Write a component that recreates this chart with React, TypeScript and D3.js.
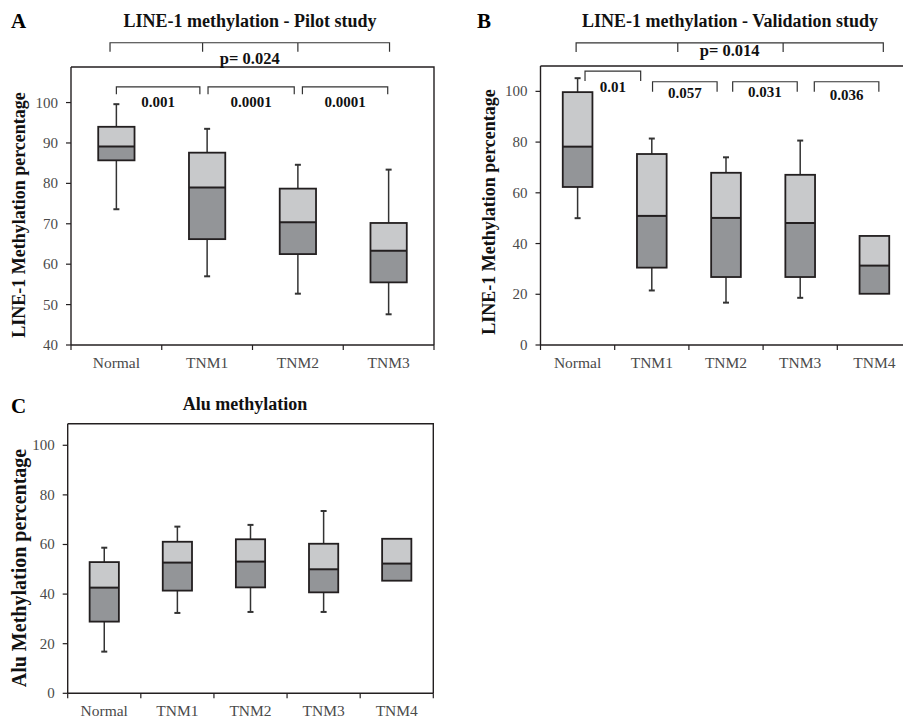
import React from 'react';
import * as d3 from 'd3';

// ---- Panel A: LINE-1 methylation, pilot study ----
const pilotCategories = ['Normal', 'TNM1', 'TNM2', 'TNM3'];
const pilotMin = [73.6, 57.0, 52.7, 47.6];
const pilotQ1 = [85.7, 66.2, 62.5, 55.5];
const pilotMedian = [89.1, 79.0, 70.4, 63.3];
const pilotQ3 = [94.0, 87.6, 78.7, 70.2];
const pilotMax = [99.6, 93.5, 84.6, 83.4];
const pilotTicks = [40, 50, 60, 70, 80, 90, 100];
// pairwise p-values (spans in category units, level in % units)
const pilotPairFrom = [0, 1.01, 2.05];
const pilotPairTo = [0.92, 1.96, 2.99];
const pilotPairLabels = ['0.001', '0.0001', '0.0001'];
const pilotPairLevel = [103.9, 103.9, 103.9];
const pilotAllSpan = [-0.07, 3.01];
const pilotAllTicks = [0.95, 2.0];
const pilotAllLevel = 114.8;
const pilotAllLabel = 'p= 0.024';

// ---- Panel B: LINE-1 methylation, validation study ----
const validCategories = ['Normal', 'TNM1', 'TNM2', 'TNM3', 'TNM4'];
const validMin = [50.0, 21.5, 16.7, 18.6, null];
const validQ1 = [62.3, 30.5, 26.8, 26.8, 20.2];
const validMedian = [78.2, 50.9, 50.1, 48.1, 31.3];
const validQ3 = [99.7, 75.3, 67.9, 67.1, 43.0];
const validMax = [105.2, 81.4, 74.0, 80.6, null];
const validTicks = [0, 20, 40, 60, 80, 100];
const validPairFrom = [0.1, 1.01, 2.09, 3.19];
const validPairTo = [0.85, 1.88, 2.96, 4.06];
const validPairLabels = ['0.01', '0.057', '0.031', '0.036'];
const validPairLevel = [108.0, 103.8, 103.8, 103.8];
const validAllSpan = [-0.02, 4.12];
const validAllTicks = [1.35, 2.77];
const validAllLevel = 119.1;
const validAllLabel = 'p= 0.014';

// ---- Panel C: Alu methylation ----
const aluCategories = ['Normal', 'TNM1', 'TNM2', 'TNM3', 'TNM4'];
const aluMin = [16.8, 32.4, 32.8, 32.8, null];
const aluQ1 = [28.9, 41.4, 42.7, 40.7, 45.4];
const aluMedian = [42.6, 52.7, 53.1, 50.0, 52.3];
const aluQ3 = [52.9, 61.1, 62.1, 60.3, 62.3];
const aluMax = [58.7, 67.2, 67.9, 73.5, null];
const aluTicks = [0, 20, 40, 60, 80, 100];

const LIGHT = '#c8c9cb';
const DARK = '#939598';
const INK = '#231f20';
const TICKTEXT = '#4a4a4a';

type Frame = { left: number; right: number; top: number; bottom: number };

type PanelProps = {
  letter: string;
  letterPos: [number, number];
  title: string;
  titlePos: [number, number];
  yLabel: string;
  yLabelPos: [number, number];
  yLabelSize?: number;
  categories: string[];
  mins: (number | null)[];
  q1s: number[];
  medians: number[];
  q3s: number[];
  maxs: (number | null)[];
  yDomain: [number, number];
  yTicks: number[];
  frame: Frame;
  pairs?: { from: number[]; to: number[]; labels: string[]; level: number[]; tick: number; dy: number[] };
  overall?: { span: number[]; ticks: number[]; level: number; label: string; tick: number; dy: number };
};

function BoxPanel(p: PanelProps) {
  const { frame } = p;
  const x = d3.scaleBand<string>().domain(p.categories).range([frame.left, frame.right]);
  const y = d3.scaleLinear().domain(p.yDomain).range([frame.bottom, frame.top]);
  const bw = x.bandwidth();
  const boxW = bw * 0.4;
  const capW = 6;
  const center = (c: string) => (x(c) as number) + bw / 2;
  // category index -> pixel (for bracket annotations)
  const idx = d3.scaleLinear().domain([0, 1]).range([center(p.categories[0]), center(p.categories[1])]);
  const bounds = p.categories.map((c) => x(c) as number).concat([frame.right]);

  return (
    <g>
      <text x={p.letterPos[0]} y={p.letterPos[1]} fontSize={21} fontWeight="bold" fill="#000">{p.letter}</text>
      <text x={p.titlePos[0]} y={p.titlePos[1]} fontSize={18} fontWeight="bold" textAnchor="middle" fill="#111">{p.title}</text>
      <text
        transform={`translate(${p.yLabelPos[0]},${p.yLabelPos[1]}) rotate(-90)`}
        fontSize={p.yLabelSize ?? 18}
        fontWeight="bold"
        textAnchor="middle"
        fill="#111"
      >
        {p.yLabel}
      </text>

      {/* frame: top and right border */}
      <path d={`M${frame.left},${frame.top}H${frame.right}V${frame.bottom}`} fill="none" stroke={INK} strokeWidth={1.4} />
      {/* y axis */}
      <line x1={frame.left} x2={frame.left} y1={frame.top} y2={frame.bottom} stroke={INK} strokeWidth={1.4} />
      {p.yTicks.map((t) => (
        <g key={t}>
          <line x1={frame.left - 5} x2={frame.left} y1={y(t)} y2={y(t)} stroke={INK} strokeWidth={1.2} />
          <text x={frame.left - 13} y={y(t) + 5} fontSize={15} textAnchor="end" fill={TICKTEXT}>{t}</text>
        </g>
      ))}
      {/* x axis */}
      <line x1={frame.left} x2={frame.right} y1={frame.bottom} y2={frame.bottom} stroke={INK} strokeWidth={1.4} />
      {bounds.map((b, i) => (
        <line key={i} x1={b} x2={b} y1={frame.bottom} y2={frame.bottom + 5} stroke={INK} strokeWidth={1.2} />
      ))}
      {p.categories.map((c) => (
        <text key={c} x={center(c)} y={frame.bottom + 22.5} fontSize={15.5} textAnchor="middle" fill={TICKTEXT}>{c}</text>
      ))}

      {/* boxes */}
      {p.categories.map((c, i) => {
        const cx = center(c);
        const lo = p.mins[i];
        const hi = p.maxs[i];
        return (
          <g key={c}>
            {hi != null && (
              <g stroke="#333" strokeWidth={1.5}>
                <line x1={cx} x2={cx} y1={y(hi)} y2={y(p.q3s[i])} />
                <line x1={cx - capW / 2} x2={cx + capW / 2} y1={y(hi)} y2={y(hi)} strokeWidth={2} />
              </g>
            )}
            {lo != null && (
              <g stroke="#333" strokeWidth={1.5}>
                <line x1={cx} x2={cx} y1={y(p.q1s[i])} y2={y(lo)} />
                <line x1={cx - capW / 2} x2={cx + capW / 2} y1={y(lo)} y2={y(lo)} strokeWidth={2} />
              </g>
            )}
            <rect x={cx - boxW / 2} y={y(p.q3s[i])} width={boxW} height={y(p.medians[i]) - y(p.q3s[i])} fill={LIGHT} />
            <rect x={cx - boxW / 2} y={y(p.medians[i])} width={boxW} height={y(p.q1s[i]) - y(p.medians[i])} fill={DARK} />
            <rect
              x={cx - boxW / 2}
              y={y(p.q3s[i])}
              width={boxW}
              height={y(p.q1s[i]) - y(p.q3s[i])}
              fill="none"
              stroke={INK}
              strokeWidth={1.8}
            />
            <line x1={cx - boxW / 2} x2={cx + boxW / 2} y1={y(p.medians[i])} y2={y(p.medians[i])} stroke={INK} strokeWidth={2} />
          </g>
        );
      })}

      {/* overall significance bracket */}
      {p.overall && (
        <g>
          <path
            d={
              `M${idx(p.overall.span[0])},${y(p.overall.level) + p.overall.tick}V${y(p.overall.level)}` +
              `H${idx(p.overall.span[1])}V${y(p.overall.level) + p.overall.tick}` +
              p.overall.ticks.map((t) => `M${idx(t)},${y(p.overall.level)}V${y(p.overall.level) + p.overall.tick}`).join('')
            }
            fill="none"
            stroke="#333"
            strokeWidth={1.2}
          />
          <text
            x={(idx(p.overall.span[0]) + idx(p.overall.span[1])) / 2}
            y={y(p.overall.level) + p.overall.dy}
            fontSize={16.5}
            fontWeight="bold"
            textAnchor="middle"
            fill="#111"
          >
            {p.overall.label}
          </text>
        </g>
      )}

      {/* pairwise brackets */}
      {p.pairs &&
        p.pairs.labels.map((lab, i) => {
          const pr = p.pairs!;
          const x1 = idx(pr.from[i]);
          const x2 = idx(pr.to[i]);
          const yy = y(pr.level[i]);
          return (
            <g key={i}>
              <path d={`M${x1},${yy + pr.tick}V${yy}H${x2}V${yy + pr.tick}`} fill="none" stroke="#333" strokeWidth={1.2} />
              <text x={(x1 + x2) / 2} y={yy + pr.dy[i]} fontSize={15} fontWeight="bold" textAnchor="middle" fill="#111">
                {lab}
              </text>
            </g>
          );
        })}
    </g>
  );
}

export default function App() {
  return (
    <svg
      width={903}
      height={718}
      style={{ position: 'absolute', left: 0, top: 0, display: 'block', background: '#fff' }}
      fontFamily="'Liberation Serif', 'Times New Roman', serif"
    >
      <BoxPanel
        letter="A"
        letterPos={[11, 28]}
        title="LINE-1 methylation - Pilot study"
        titlePos={[250, 27]}
        yLabel="LINE-1 Methylation percentage"
        yLabelPos={[25, 215]}
        categories={pilotCategories}
        mins={pilotMin}
        q1s={pilotQ1}
        medians={pilotMedian}
        q3s={pilotQ3}
        maxs={pilotMax}
        yDomain={[40, 108.8]}
        yTicks={pilotTicks}
        frame={{ left: 71, right: 434, top: 67, bottom: 345 }}
        pairs={{ from: pilotPairFrom, to: pilotPairTo, labels: pilotPairLabels, level: pilotPairLevel, tick: 7.5, dy: [20, 20, 20] }}
        overall={{ span: pilotAllSpan, ticks: pilotAllTicks, level: pilotAllLevel, label: pilotAllLabel, tick: 9, dy: 21.5 }}
      />
      <BoxPanel
        letter="B"
        letterPos={[477, 28]}
        title="LINE-1 methylation - Validation study"
        titlePos={[730, 27]}
        yLabel="LINE-1 Methylation percentage"
        yLabelPos={[495, 212]}
        categories={validCategories}
        mins={validMin}
        q1s={validQ1}
        medians={validMedian}
        q3s={validQ3}
        maxs={validMax}
        yDomain={[0, 110]}
        yTicks={validTicks}
        frame={{ left: 540.5, right: 911.5, top: 66, bottom: 345 }}
        pairs={{ from: validPairFrom, to: validPairTo, labels: validPairLabels, level: validPairLevel, tick: 10, dy: [20.5, 16.5, 15.5, 18.5] }}
        overall={{ span: validAllSpan, ticks: validAllTicks, level: validAllLevel, label: validAllLabel, tick: 9, dy: 13.5 }}
      />
      <BoxPanel
        letter="C"
        letterPos={[11, 413]}
        title="Alu methylation"
        titlePos={[245, 410]}
        yLabel="Alu Methylation percentage"
        yLabelPos={[26, 568]}
        yLabelSize={20}
        categories={aluCategories}
        mins={aluMin}
        q1s={aluQ1}
        medians={aluMedian}
        q3s={aluQ3}
        maxs={aluMax}
        yDomain={[0, 108.7]}
        yTicks={aluTicks}
        frame={{ left: 67.7, right: 433.3, top: 423.7, bottom: 693.3 }}
      />
    </svg>
  );
}
